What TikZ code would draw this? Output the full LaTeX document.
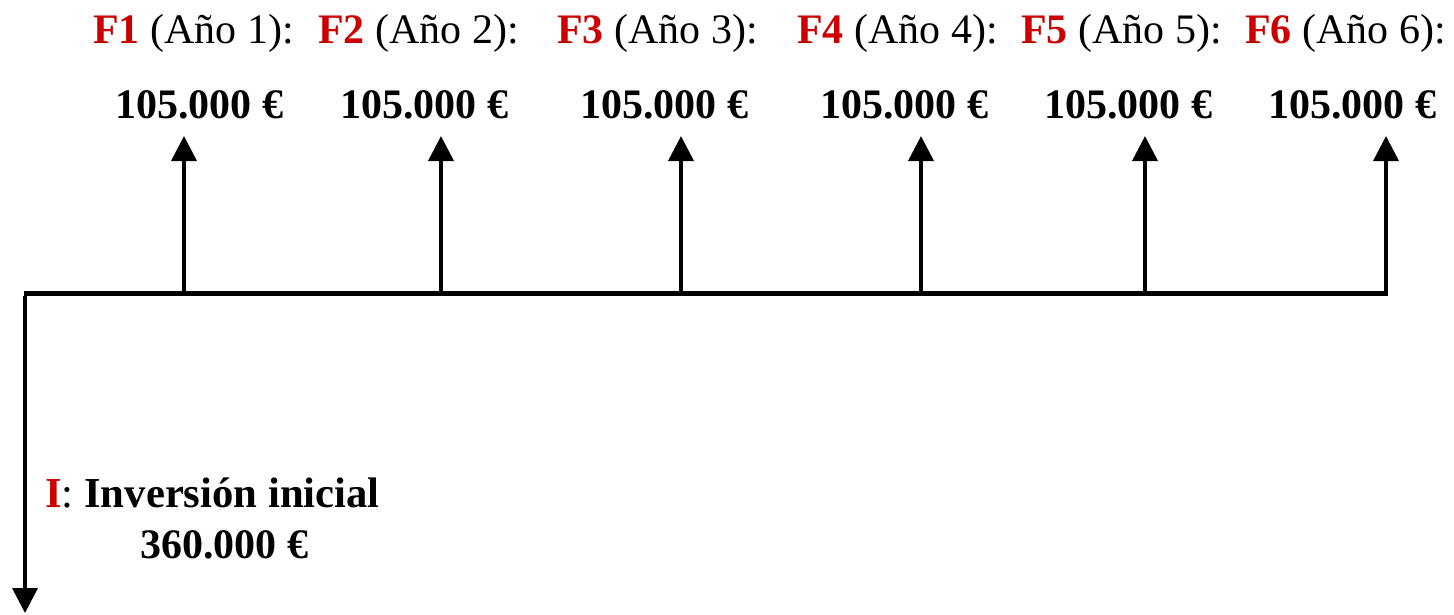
\documentclass[tikz,border=0pt]{standalone}
\usepackage{fontspec}
\setmainfont{Liberation Serif}
\usetikzlibrary{arrows.meta}
\definecolor{flowred}{RGB}{204,0,0}
\tikzset{
  lbl/.style={anchor=base west, inner sep=0pt, font=\fontsize{42}{48}\selectfont},
  axisline/.style={line width=5pt},
  flowarrow/.style={line width=3.5pt, -{Triangle[width=25pt,length=25pt]}},
}
\newcommand{\fl}[1]{\textcolor{flowred}{\textbf{F#1}} (Año #1):}
\begin{document}
\begin{tikzpicture}[x=1pt,y=-1pt]
\useasboundingbox (0,0) rectangle (1454,614);
% time axis
\coordinate (a0) at (25,293);
\coordinate (aend) at (1386,293);
\draw[axisline] ([xshift=-1.5pt]a0) -- ([xshift=2pt]aend);
% initial outlay
\coordinate (down) at (25,613);
\draw[flowarrow] ([yshift=-2.5pt]a0) -- (down);
% yearly inflows
\foreach \i/\x in {1/184,2/441,3/681,4/921,5/1145,6/1386}{
  \coordinate (b\i) at (\x,290.5);
  \coordinate (t\i) at (\x,136);
  \draw[flowarrow] (b\i) -- (t\i);
}
% labels
\node[lbl] (h1) at (93,43) {\fl{1}};
\node[lbl] (h2) at (318,43) {\fl{2}};
\node[lbl] (h3) at (557,43) {\fl{3}};
\node[lbl] (h4) at (797,43) {\fl{4}};
\node[lbl] (h5) at (1021,43) {\fl{5}};
\node[lbl] (h6) at (1245,43) {\fl{6}};
\foreach \i/\x in {1/115,2/340,3/580,4/820,5/1044,6/1268}{
  \node[lbl] (v\i) at (\x,118) {\textbf{105.000 €}};
}
\node[lbl, font=\fontsize{42.7}{48}\selectfont] (inv) at (45,507) {\textcolor{flowred}{\textbf{I}}: \textbf{Inversión inicial}};
\node[lbl] (invv) at (140,558) {\textbf{360.000 €}};
\end{tikzpicture}
\end{document}
